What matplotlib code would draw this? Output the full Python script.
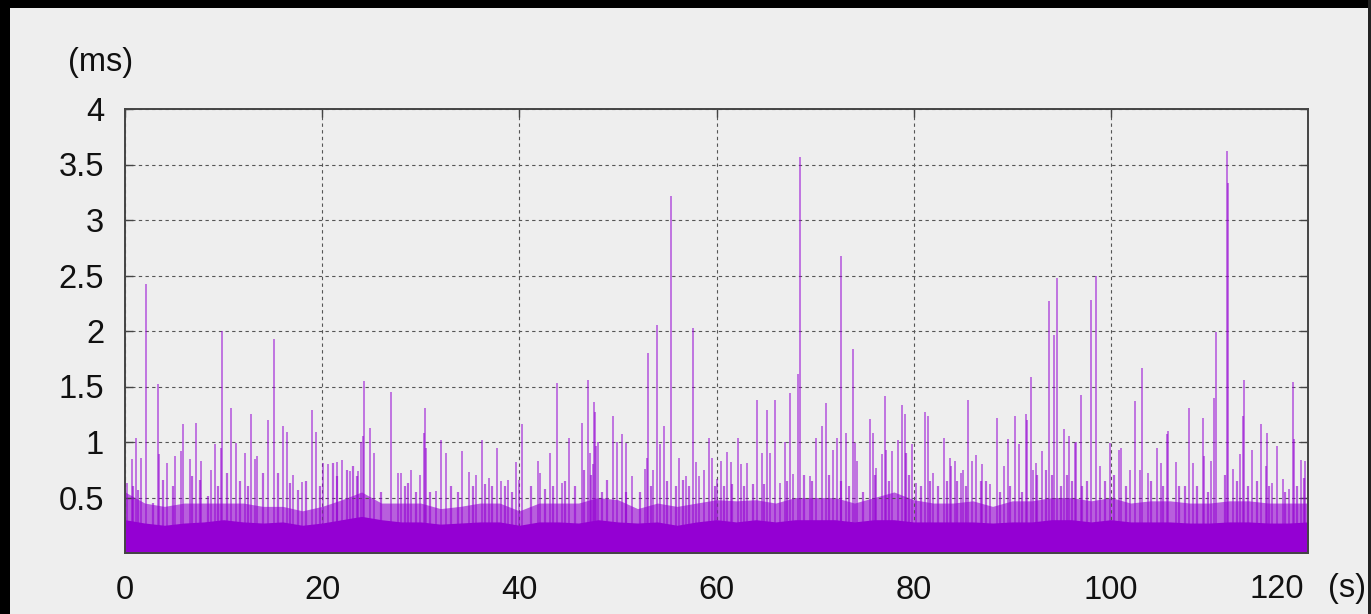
import matplotlib
matplotlib.use("Agg")
import matplotlib.pyplot as plt
from matplotlib.patches import Rectangle
import numpy as np

# ---------------- data ----------------
# time of notable spikes (s) and their heights (ms)
spike_t = [0.24, 0.68, 1.08, 1.59, 2.13, 3.31, 3.45, 4.23, 5.07, 5.65, 5.85, 6.56, 7.2, 7.7,
           8.72, 9.13, 9.8, 9.75, 10.75, 11.3, 12.17, 12.75, 13.2, 13.4, 14.5, 15.1, 16.06,
           16.4, 17.07, 18.0, 18.93, 19.34, 20.05, 20.6, 21.5, 21.97, 22.8, 23.66, 23.9,
           24.1, 24.2, 24.9, 25.3, 26.95, 27.7, 28.0, 29.0, 29.9, 30.3, 30.45, 30.56, 31.5,
           32.1, 32.6, 34.2, 34.9, 35.6, 36.2, 36.9, 37.7, 38.1, 38.9, 39.7, 40.0, 40.3,
           41.9, 42.1, 43.1, 43.8, 44.3, 45.0, 46.4, 47.0, 47.2, 47.5, 47.6, 47.7, 48.0,
           47.8, 49.5, 49.9, 50.4, 50.8, 51.4, 52.7, 52.9, 53.1, 53.6, 54.0, 54.3, 54.7,
           55.4, 56.2, 56.9, 57.6, 57.9, 58.2, 58.7, 59.2, 59.5, 60.1, 60.5, 61.1, 61.5,
           62.2, 62.5, 63.1, 64.1, 64.6, 65.1, 65.4, 65.9, 66.4, 66.9, 67.5, 67.8, 68.3,
           68.5, 69.5, 70.1, 70.7, 71.1, 71.8, 72.2, 72.65, 73.1, 73.8, 74.0, 74.3, 75.6,
           75.9, 76.2, 76.8, 77.1, 77.2, 77.8, 78.4, 78.8, 79.1, 79.8, 80.2, 81.1, 81.5,
           82.0, 83.1, 83.7, 83.8, 84.2, 84.8, 85.0, 85.5, 85.9, 86.3, 86.9, 87.7, 88.5,
           89.2, 89.6, 90.3, 90.7, 91.4, 91.5, 91.9, 92.1, 92.4, 93.0, 93.7, 94.2, 94.5,
           95.2, 95.8, 96.5, 96.4, 97.0, 98.0, 98.5, 98.9, 99.9, 100.8, 101.0, 101.9,
           102.5, 103.0, 103.2, 103.8, 104.7, 105.1, 105.7, 105.8, 106.6, 107.9, 108.3,
           109.3, 109.5, 110.2, 110.5, 110.7, 111.8, 111.9, 112.4, 113.1, 113.4, 113.5,
           114.3, 115.2, 115.7, 115.8, 116.3, 116.9, 117.5, 118.1, 118.5, 118.6, 119.3,
           119.7]
spike_h = [0.63, 0.85, 1.04, 0.86, 2.42, 1.52, 0.89, 0.81, 0.87, 0.92, 1.16, 0.85, 1.17, 0.83,
           0.75, 0.98, 2.0, 0.95, 1.31, 0.99, 0.9, 1.25, 0.85, 0.87, 1.2, 1.93, 1.14,
           1.09, 0.7, 0.64, 1.29, 1.09, 0.81, 0.8, 0.82, 0.84, 0.74, 0.74, 1.0,
           1.05, 1.55, 1.13, 0.9, 1.45, 0.72, 0.72, 0.75, 0.7, 1.08, 1.31, 0.95, 0.56,
           1.02, 0.9, 0.92, 0.73, 0.7, 1.02, 0.68, 0.95, 0.65, 0.66, 0.82, 0.66, 1.16,
           0.83, 0.72, 0.9, 1.53, 0.63, 1.04, 1.17, 1.56, 0.9, 0.8, 1.36, 1.27, 1.0,
           0.96, 1.23, 1.0, 1.07, 0.99, 0.69, 0.76, 0.86, 1.8, 0.75, 2.05, 0.98, 1.14,
           3.22, 0.86, 0.69, 2.03, 0.82, 0.69, 0.75, 1.04, 0.86, 0.67, 0.83, 0.91, 0.82,
           1.04, 0.8, 0.81, 1.38, 0.9, 1.29, 0.9, 1.38, 0.63, 1.0, 1.44, 0.71, 1.61,
           3.57, 0.69, 1.04, 1.14, 1.35, 0.93, 1.04, 2.68, 1.08, 1.84, 0.99, 0.83, 1.21,
           1.08, 0.77, 0.89, 1.41, 0.93, 0.92, 1.02, 1.33, 1.25, 0.98, 0.63, 1.27, 1.23,
           0.72, 1.04, 0.86, 0.78, 0.83, 0.72, 0.75, 1.38, 0.83, 0.88, 0.8, 0.62, 1.22,
           0.78, 1.03, 1.23, 0.98, 1.25, 1.2, 1.59, 0.75, 0.81, 0.92, 2.27, 1.96, 2.48,
           1.12, 1.05, 1.0, 0.99, 1.42, 2.28, 2.5, 0.78, 0.99, 0.93, 0.95, 0.75,
           1.37, 0.75, 1.67, 0.72, 0.95, 0.81, 1.07, 1.1, 0.82, 1.31, 0.81,
           1.22, 0.87, 0.83, 1.4, 1.99, 3.62, 3.33, 0.76, 0.89, 1.23, 1.56,
           0.93, 1.16, 0.78, 1.08, 0.63, 0.96, 0.67, 0.58, 1.54, 1.03, 0.84,
           0.83]

# smaller spikes inside the dense band
minor_t = [0.85, 1.28, 2.87, 3.89, 4.9, 6.76, 7.6, 8.45, 9.47, 10.3, 11.66, 12.5, 14.03,
           15.55, 16.7, 17.58, 18.4, 19.78, 21.1, 21.47, 22.5, 23.16, 23.56,
           26.0, 28.4, 28.7, 29.5, 30.9, 33.1, 33.8, 35.3, 36.5, 37.2, 38.5, 39.3, 41.2,
           42.6, 43.4, 44.6, 45.6, 46.6, 47.3,
           48.4, 48.9, 50.8, 52.2, 53.4, 55.0, 55.9, 56.6, 57.2, 59.8, 60.8, 61.6, 62.8,
           63.7, 64.8, 67.2, 68.9, 69.7, 71.4,
           72.6, 73.4, 74.9, 76.1, 77.5, 79.2, 79.5, 80.7, 81.7, 82.5, 83.4, 84.4, 85.3,
           86.8, 87.3, 88.8, 89.8, 91.0, 92.5, 93.4, 94.0, 94.9, 95.6, 96.1,
           97.1, 97.6, 99.4, 100.3, 101.5, 104.1, 105.3, 106.9, 107.5, 108.7, 109.9,
           111.6, 112.8, 113.9, 114.8, 116.0, 117.7, 118.9, 119.55]
minor_h = [0.6, 0.57, 0.45, 0.66, 0.6, 0.69, 0.66, 0.51, 0.6, 0.72, 0.65, 0.6, 0.72,
           0.72, 0.63, 0.57, 0.65, 0.6, 0.81, 0.69, 0.75, 0.78, 0.69,
           0.55, 0.6, 0.63, 0.55, 0.55, 0.6, 0.55, 0.6, 0.62, 0.6, 0.6, 0.55, 0.6,
           0.58, 0.6, 0.65, 0.6, 0.75, 0.7,
           0.55, 0.66, 0.55, 0.55, 0.6, 0.65, 0.6, 0.66, 0.6, 0.6, 0.6, 0.62, 0.6,
           0.62, 0.62, 0.65, 0.7, 0.65, 0.7,
           0.65, 0.6, 0.55, 0.7, 0.65, 0.9, 0.7, 0.6, 0.65, 0.6, 0.65, 0.65, 0.6,
           0.65, 0.65, 0.55, 0.6, 0.55, 0.7, 0.75, 0.7, 0.6, 0.7, 0.65,
           0.6, 0.65, 0.65, 0.7, 0.6, 0.65, 0.6, 0.6, 0.6, 0.6, 0.55,
           0.7, 0.65, 0.6, 0.65, 0.6, 0.55, 0.6, 0.68]

# 2-second envelope of the dense background: top of the textured band and of the solid floor
band_t = [0, 2, 4, 6, 8, 10, 12, 14, 16, 18, 20, 22, 24, 26, 28, 30, 32, 34, 36, 38, 40,
          42, 44, 46, 48, 50, 52, 54, 56, 58, 60, 62, 64, 66, 68, 70, 72, 74, 76, 78, 80,
          82, 84, 86, 88, 90, 92, 94, 96, 98, 100, 102, 104, 106, 108, 110, 112, 114, 116,
          118, 120]
texture_h = [0.55, 0.45, 0.42, 0.45, 0.45, 0.45, 0.45, 0.42, 0.42, 0.38, 0.42, 0.48, 0.55,
             0.45, 0.45, 0.45, 0.40, 0.42, 0.45, 0.45, 0.38, 0.45, 0.45, 0.45, 0.50, 0.48,
             0.40, 0.45, 0.42, 0.45, 0.48, 0.47, 0.48, 0.45, 0.50, 0.50, 0.50, 0.45, 0.50,
             0.55, 0.48, 0.45, 0.45, 0.47, 0.42, 0.47, 0.47, 0.50, 0.50, 0.47, 0.50, 0.45,
             0.47, 0.47, 0.45, 0.45, 0.47, 0.47, 0.45, 0.45, 0.45]
floor_h = [0.30, 0.27, 0.25, 0.27, 0.28, 0.30, 0.28, 0.27, 0.28, 0.25, 0.27, 0.30, 0.33,
           0.30, 0.28, 0.28, 0.26, 0.27, 0.28, 0.28, 0.25, 0.28, 0.28, 0.27, 0.30, 0.28,
           0.27, 0.28, 0.25, 0.28, 0.30, 0.28, 0.30, 0.28, 0.30, 0.30, 0.30, 0.28, 0.30,
           0.30, 0.28, 0.28, 0.28, 0.28, 0.27, 0.28, 0.28, 0.30, 0.30, 0.28, 0.30, 0.28,
           0.28, 0.28, 0.27, 0.27, 0.28, 0.28, 0.27, 0.27, 0.28]

y_ticks = [0.5, 1, 1.5, 2, 2.5, 3, 3.5, 4]
y_tick_labels = ["0.5", "1", "1.5", "2", "2.5", "3", "3.5", "4"]
x_ticks = [0, 20, 40, 60, 80, 100]
x_tick_labels = ["0", "20", "40", "60", "80", "100"]

# ---------------- figure ----------------
W, H = 1371, 614
fig = plt.figure(figsize=(W / 100, H / 100), dpi=100)
bg = "#eeeeee"
fig.patch.set_facecolor(bg)
plt.rcParams["font.family"] = ["Liberation Sans", "DejaVu Sans"]
FS = 23.5
TXT = "#111111"

# black frame around the picture
fig.patches.append(Rectangle((0, 1 - 8 / H), 1, 8 / H, transform=fig.transFigure,
                             facecolor="black", edgecolor="none", zorder=10))
fig.patches.append(Rectangle((0, 0), 10 / W, 1, transform=fig.transFigure,
                             facecolor="black", edgecolor="none", zorder=10))
fig.patches.append(Rectangle((1 - 3 / W, 0), 3 / W, 1, transform=fig.transFigure,
                             facecolor="#222222", edgecolor="none", zorder=10))

left, right, top, bottom = 125, 1308, 109, 553
ax = fig.add_axes([left / W, 1 - bottom / H, (right - left) / W, (bottom - top) / H])
ax.set_facecolor(bg)

purple = "#9400d3"
ax.fill_between(band_t, 0, texture_h, color=purple, alpha=0.6, lw=0, zorder=2)
ax.grid(True, color="#555555", linestyle=(0, (3, 3)), linewidth=0.8, zorder=3)
ax.set_axisbelow(False)
ax.vlines(minor_t, 0, minor_h, colors=purple, linewidth=1.6, alpha=0.6, zorder=3.5)
ax.fill_between(band_t, 0, floor_h, color=purple, alpha=1.0, lw=0, zorder=4)
ax.vlines(spike_t, 0, spike_h, colors=purple, linewidth=1.1, alpha=0.65, zorder=5)

ax.set_xlim(0, 120)
ax.set_ylim(0, 4)
ax.set_xticks(x_ticks)
ax.set_xticklabels(x_tick_labels)
ax.set_yticks(y_ticks)
ax.set_yticklabels(y_tick_labels)
ax.tick_params(axis="both", direction="in", length=6, width=1, color="#444444",
               labelsize=FS, labelcolor=TXT, right=True, top=True)
ax.tick_params(axis="y", pad=15)
ax.tick_params(axis="x", pad=16)
for s in ax.spines.values():
    s.set_color("#444444")
    s.set_linewidth(1.4)
    s.set_zorder(6)

# manual labels
fig.text(1277 / W, 1 - 589 / H, "120", ha="center", va="center", fontsize=FS, color=TXT)
fig.text(1347 / W, 1 - 589 / H, "(s)", ha="center", va="center", fontsize=FS, color=TXT)
fig.text(101 / W, 1 - 62 / H, "(ms)", ha="center", va="center", fontsize=FS, color=TXT)

fig.savefig("out.png", dpi=100, facecolor=fig.get_facecolor())
